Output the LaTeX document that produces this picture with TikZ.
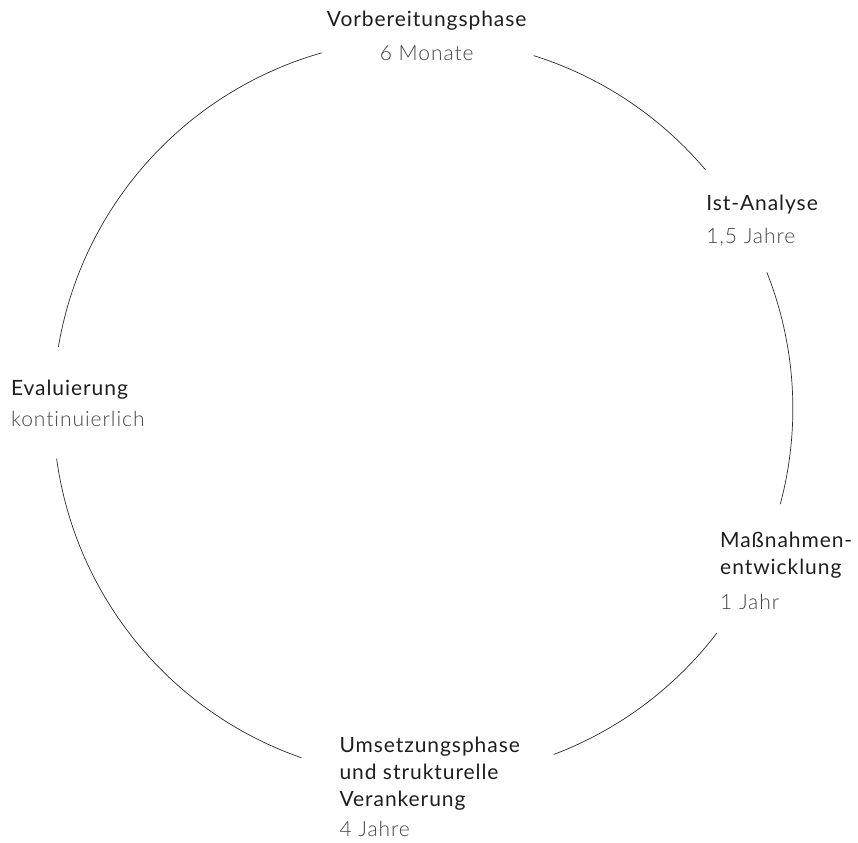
\documentclass[tikz,border=0pt]{standalone}
\usepackage{fontspec}
\setmainfont{Lato}[LetterSpace=4.5, Ligatures=NoCommon]
\IfFontExistsTF{Lato Light}{\newfontfamily\duennfont{Lato Light}[LetterSpace=4.5, Ligatures=NoCommon]}{\newfontfamily\duennfont{Lato}[LetterSpace=4.5, Ligatures=NoCommon]}
\definecolor{titelgrau}{HTML}{1E1E1E}
\definecolor{dauergrau}{HTML}{444444}
\definecolor{liniengrau}{HTML}{2B2B2B}
\begin{document}
\begin{tikzpicture}[
    titel/.style={anchor=base west, align=left, inner sep=0pt, text=titelgrau, font=\fontsize{21}{27.3}\selectfont},
    dauer/.style={anchor=base west, inner sep=0pt, text=dauergrau, font=\duennfont\fontsize{21}{27.3}\selectfont},
    bogen/.style={liniengrau, line width=0.7pt}]
    \useasboundingbox (-14.87,-15.24) rectangle (15.29,14.36);

    % Phasen mit Dauer (bei mehrzeiligen Knoten liegt base auf der letzten Zeile)
    \node[titel, anchor=base] (vorb) at (0.13,13.42) {Vorbereitungsphase};
    \node[dauer, anchor=base] (vorb-dauer) at (0.13,12.25) {6 Monate};
    \node[titel] (ist) at (9.95,6.95) {Ist-Analyse};
    \node[dauer] (ist-dauer) at (9.95,5.81) {1,5 Jahre};
    \node[titel] (mass) at (10.44,-5.85) {Maßnahmen-\\entwicklung};
    \node[dauer] (mass-dauer) at (10.44,-7.06) {1 Jahr};
    \node[titel] (ums) at (-2.94,-14.0) {Umsetzungsphase\\und strukturelle\\Verankerung};
    \node[dauer] (ums-dauer) at (-2.94,-15.05) {4 Jahre};
    \node[titel] (eval) at (-14.49,0.47) {Evaluierung};
    \node[dauer] (eval-dauer) at (-14.49,-0.62) {kontinuierlich};

    % Kreisboegen zwischen den Phasen (Radius 13)
    \coordinate (vorb-ist) at (72.6:13);
    \coordinate (ist-mass) at (21.6:13);
    \coordinate (mass-ums) at (-37.4:13);
    \coordinate (ums-eval) at (-109.2:13);
    \coordinate (eval-vorb) at (170.4:13);
    \draw[bogen] (vorb-ist) arc[start angle=72.6, end angle=40.2, radius=13];
    \draw[bogen] (ist-mass) arc[start angle=21.6, end angle=-15, radius=13];
    \draw[bogen] (mass-ums) arc[start angle=-37.4, end angle=-69.3, radius=13];
    \draw[bogen] (ums-eval) arc[start angle=-109.2, end angle=-172.2, radius=13];
    \draw[bogen] (eval-vorb) arc[start angle=170.4, end angle=105.9, radius=13];
\end{tikzpicture}
\end{document}
